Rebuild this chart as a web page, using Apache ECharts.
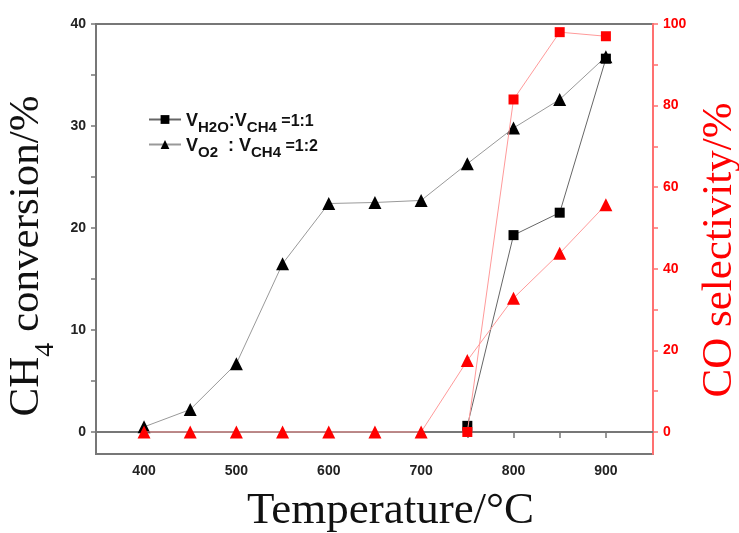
<!DOCTYPE html>
<html>
<head>
<meta charset="utf-8">
<script src="https://cdn.jsdelivr.net/npm/echarts@6/dist/echarts.min.js"></script>
<style>
  html, body { margin: 0; padding: 0; background: #fff; }
  #chart { width: 739px; height: 533px; }
</style>
</head>
<body>
<div id="chart"></div>
<script>
// temperatures (°C)
var temps = [400, 450, 500, 550, 600, 650, 700, 750, 800, 850, 900];
var tempsH2O = [750, 800, 850, 900];

// CH4 conversion (%)
var convH2O = [0.6, 19.3, 21.5, 36.6];
var convO2 = [0.5, 2.2, 6.7, 16.5, 22.4, 22.5, 22.7, 26.3, 29.8, 32.6, 36.8];

// CO selectivity (%)
var selH2O = [0, 81.5, 98, 97];
var selO2 = [0, 0, 0, 0, 0, 0, 0, 17.5, 32.8, 43.8, 55.7];

var xTicks = [400, 450, 500, 550, 600, 650, 700, 750, 800, 850, 900];
var xLabels = [400, 500, 600, 700, 800, 900];
var leftTicks = [0, 5, 10, 15, 20, 25, 30, 35, 40];
var leftLabels = [0, 10, 20, 30, 40];
var rightTicks = [0, 10, 20, 30, 40, 50, 60, 70, 80, 90, 100];
var rightLabels = [0, 20, 40, 60, 80, 100];

function pairs(xs, ys) {
  return xs.map(function (x, i) { return [x, ys[i]]; });
}

var myCharts = echarts.init(document.getElementById('chart'));
var tickFont = { fontFamily: 'Liberation Sans', fontWeight: 'bold', fontSize: 14 };

var option = {
  animation: false,
  grid: {
    left: 96, right: 86, top: 24, bottom: 79,
    outerBoundsMode: 'none',
    containLabel: false,
    show: true, borderColor: '#777', borderWidth: 2
  },
  legend: {
    orient: 'vertical',
    left: 143,
    top: 107,
    itemGap: 2,
    itemWidth: 32,
    itemHeight: 11,
    data: ['H2O', 'O2'],
    formatter: function (name) {
      if (name === 'H2O') return '{v|V}{s|H2O}{v|:V}{s|CH4}{e| =1:1}';
      return '{v|V}{s|O2}{v|  : V}{s|CH4}{e| =1:2}';
    },
    textStyle: {
      rich: {
        v: { fontFamily: 'Liberation Sans', fontWeight: 'bold', fontSize: 18, color: '#111', lineHeight: 21, verticalAlign: 'bottom' },
        s: { fontFamily: 'Liberation Sans', fontWeight: 'bold', fontSize: 15, color: '#111', lineHeight: 21, verticalAlign: 'bottom', padding: [0, 0, -5, 0] },
        e: { fontFamily: 'Liberation Sans', fontWeight: 'bold', fontSize: 16, color: '#111', lineHeight: 21, verticalAlign: 'bottom' }
      }
    }
  },
  xAxis: {
    type: 'value',
    min: 348,
    max: 951,
    name: 'Temperature/°C',
    nameLocation: 'middle',
    nameGap: 35,
    nameTextStyle: { fontFamily: 'Liberation Serif', fontSize: 45, color: '#111', padding: [0, 0, 0, 32] },
    axisLine: { show: true, lineStyle: { color: '#777', width: 2 } },
    axisTick: { show: true, inside: false, length: 6, customValues: xTicks, lineStyle: { color: '#777', width: 1.5 } },
    axisLabel: Object.assign({ customValues: xLabels, color: '#222', margin: 10 }, tickFont),
    splitLine: { show: false }
  },
  yAxis: [
    {
      type: 'value',
      min: -2.16,
      max: 40,
      name: '{a|CH}{b|4}{a| conversion/%}',
      nameLocation: 'middle',
      nameRotate: 90,
      nameGap: 45,
      nameTextStyle: {
        padding: [0, 34, 0, 0],
        rich: {
          a: { fontFamily: 'Liberation Serif', fontSize: 43, color: '#111', lineHeight: 46, verticalAlign: 'bottom' },
          b: { fontFamily: 'Liberation Serif', fontSize: 28, color: '#111', lineHeight: 46, verticalAlign: 'bottom', padding: [0, 0, -11, 0] }
        }
      },
      axisLine: { show: true, lineStyle: { color: '#777', width: 2 } },
      axisTick: { show: true, inside: false, length: 5, customValues: leftTicks, lineStyle: { color: '#777', width: 1.5 } },
      axisLabel: Object.assign({ customValues: leftLabels, color: '#222', margin: 10 }, tickFont),
      splitLine: { show: false }
    },
    {
      type: 'value',
      min: -5.4,
      max: 100,
      position: 'right',
      name: 'CO selectivity/%',
      nameLocation: 'middle',
      nameRotate: 90,
      nameGap: 45,
      nameTextStyle: { fontFamily: 'Liberation Serif', fontSize: 43, color: '#f00', padding: [0, 22, 0, 0] },
      axisLine: { show: true, lineStyle: { color: '#ff7070', width: 2 } },
      axisTick: { show: true, inside: false, length: 5, customValues: rightTicks, lineStyle: { color: '#ff7070', width: 1.5 } },
      axisLabel: Object.assign({ customValues: rightLabels, color: '#f00', margin: 10 }, tickFont),
      splitLine: { show: false }
    }
  ],
  series: [
    {
      name: 'O2',
      type: 'line',
      yAxisIndex: 0,
      data: pairs(temps, convO2),
      symbol: 'triangle',
      symbolSize: 13,
      itemStyle: { color: '#000' },
      lineStyle: { color: '#999', width: 1 },
      z: 3
    },
    {
      name: 'H2O',
      type: 'line',
      yAxisIndex: 0,
      data: pairs(tempsH2O, convH2O),
      symbol: 'rect',
      symbolSize: 10,
      itemStyle: { color: '#000' },
      lineStyle: { color: '#666', width: 1 },
      z: 4
    },
    {
      name: 'selO2',
      type: 'line',
      yAxisIndex: 1,
      data: pairs(temps, selO2),
      symbol: 'triangle',
      symbolSize: 13,
      itemStyle: { color: '#f00' },
      lineStyle: { color: '#ff9a9a', width: 1 },
      z: 5
    },
    {
      name: 'selH2O',
      type: 'line',
      yAxisIndex: 1,
      data: pairs(tempsH2O, selH2O),
      symbol: 'rect',
      symbolSize: 10,
      itemStyle: { color: '#f00' },
      lineStyle: { color: '#ff9a9a', width: 1 },
      z: 6
    }
  ]
};
myCharts.setOption(option);
window.addEventListener('resize', function () {
  myCharts.resize();
});
</script>
</body>
</html>
